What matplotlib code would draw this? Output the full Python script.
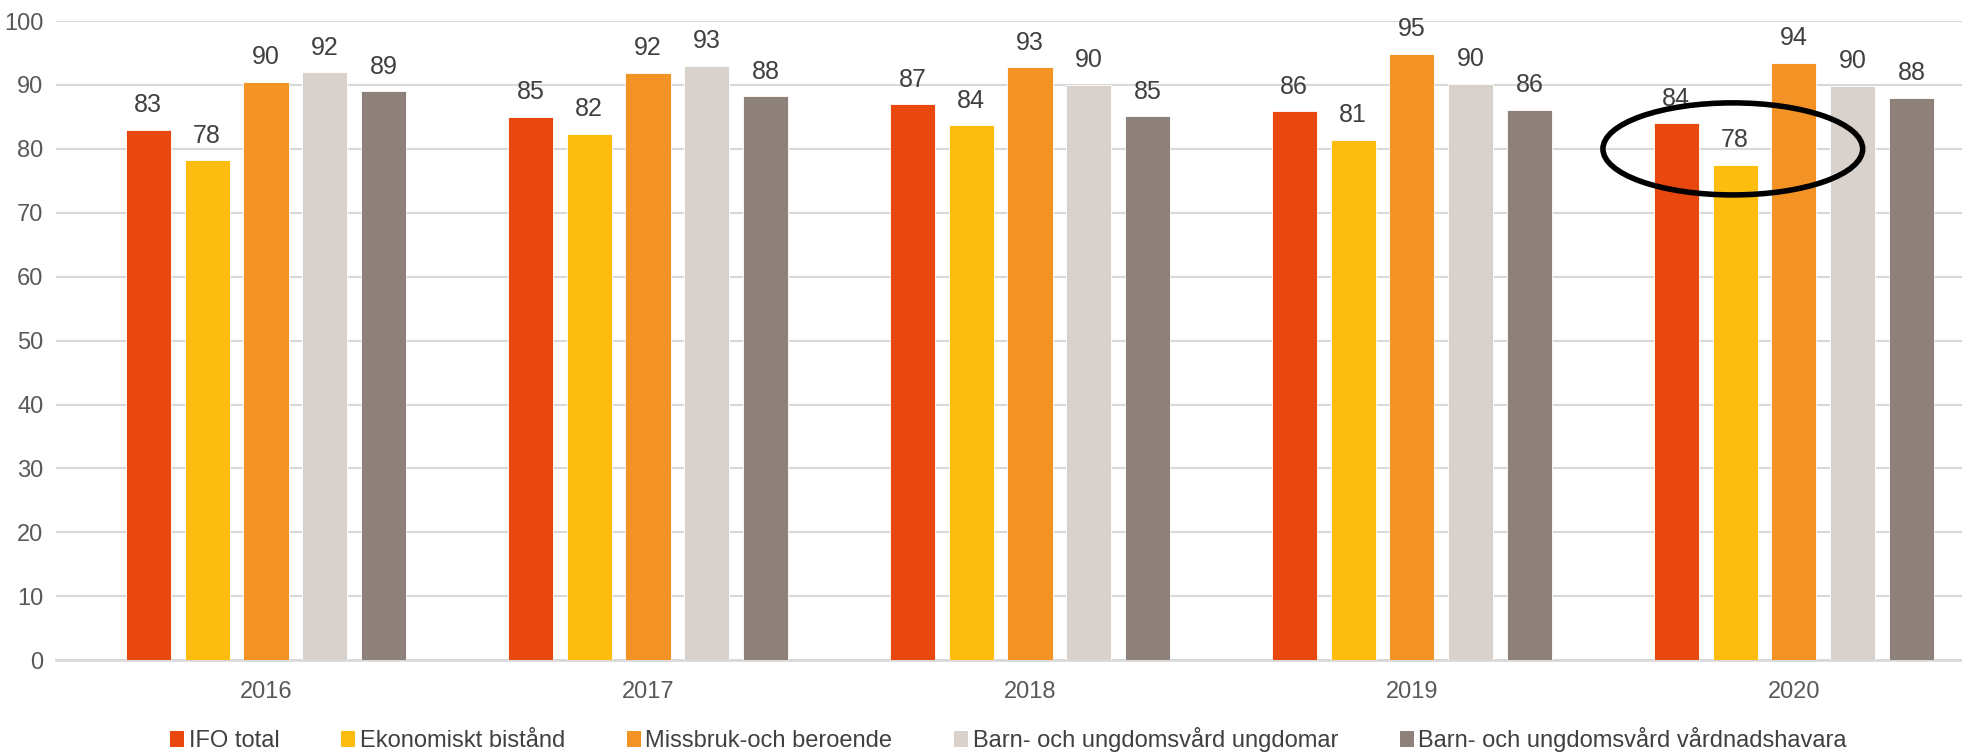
import matplotlib.pyplot as plt
import numpy as np
from matplotlib.patches import Ellipse, Patch

plt.rcParams['font.family'] = ['Liberation Sans', 'DejaVu Sans']

years = ['2016', '2017', '2018', '2019', '2020']
series_names = ['IFO total', 'Ekonomiskt bistånd', 'Missbruk-och beroende',
                'Barn- och ungdomsvård ungdomar', 'Barn- och ungdomsvård vårdnadshavara']
colors = ['#E8470D', '#FDBD0F', '#F39326', '#D9D2CC', '#8E8179']

# bar heights
ifo_total = [83.0, 85.0, 87.0, 85.9, 84.0]
ekonomiskt = [78.2, 82.4, 83.7, 81.4, 77.5]
missbruk = [90.5, 91.9, 92.8, 94.9, 93.5]
barn_ungdomar = [92.0, 93.0, 90.0, 90.2, 89.9]
barn_vardnad = [89.0, 88.2, 85.1, 86.1, 88.0]

# value labels as printed on the chart
lbl_ifo = [83, 85, 87, 86, 84]
lbl_ek = [78, 82, 84, 81, 78]
lbl_miss = [90, 92, 93, 95, 94]
lbl_bu = [92, 93, 90, 90, 90]
lbl_bv = [89, 88, 85, 86, 88]

values = [ifo_total, ekonomiskt, missbruk, barn_ungdomar, barn_vardnad]
labels = [lbl_ifo, lbl_ek, lbl_miss, lbl_bu, lbl_bv]

fig = plt.figure(figsize=(19.62, 7.52), dpi=100)
ax = fig.add_axes([0.0285, 0.122, 0.9715, 0.85])

x = np.arange(len(years))
step = 0.154
width = 0.118

for i, (vals, lbls) in enumerate(zip(values, labels)):
    bars = ax.bar(x + (i - 2) * step, vals, width, color=colors[i],
                  edgecolor='white', linewidth=0.6, zorder=3, label=series_names[i])
    ax.bar_label(bars, labels=[str(v) for v in lbls], padding=9,
                 fontsize=18, color='#404040')

ax.set_xlim(-0.55, 4.44)
ax.set_ylim(0, 100)
ax.set_yticks(np.arange(0, 101, 10))
ax.set_xticks(x)
ax.set_xticklabels(years)
ax.tick_params(axis='both', length=0, labelsize=17, colors='#595959')
ax.tick_params(axis='x', pad=15)
ax.tick_params(axis='y', pad=9)
ax.grid(axis='y', color='#D9D9D9', linewidth=1.5, zorder=0)
for s in ['top', 'right', 'left']:
    ax.spines[s].set_visible(False)
ax.spines['bottom'].set_color('#D9D9D9')
ax.spines['bottom'].set_linewidth(2)

# ring around 2020
ax.add_patch(Ellipse((3.84, 80), 0.68, 14.4, fill=False, edgecolor='black',
                     linewidth=4, zorder=5))

handles = [Patch(facecolor=c, edgecolor='none') for c in colors]
fig.legend(handles, series_names, loc='center', bbox_to_anchor=(0.514, 0.016),
           ncol=5, frameon=False, fontsize=17, handlelength=0.6, handleheight=0.7,
           handletextpad=0.2, columnspacing=2.6, labelcolor='#404040')

plt.savefig('out.png', dpi=100)
